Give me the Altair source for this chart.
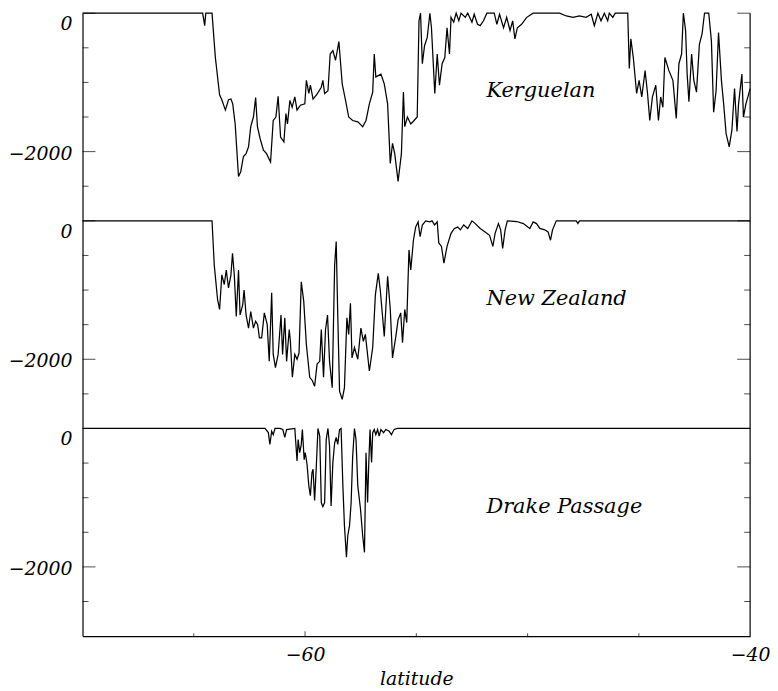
import altair as alt
import pandas as pd

# ---------------- data (latitude in degrees, depth in metres) ----------------
ker_lat = [-70, -64.60, -64.51, -64.46, -64.18, -64.03, -63.84, -63.74, -63.58, -63.44,
           -63.33, -63.25, -63.14, -62.99, -62.89, -62.77, -62.65, -62.54, -62.44, -62.32,
           -62.22, -62.14, -62.02, -61.87, -61.73, -61.55, -61.43, -61.31, -61.21, -61.10,
           -60.95, -60.86, -60.79, -60.68, -60.58, -60.46, -60.36, -60.21, -60.01, -59.94,
           -59.83, -59.76, -59.64, -59.46, -59.27, -59.20, -59.12, -58.97, -58.87, -58.75,
           -58.63, -58.48, -58.33, -58.18, -58.04, -57.86, -57.63, -57.41, -57.26, -57.11,
           -56.96, -56.89, -56.82, -56.59, -56.44, -56.29, -56.17, -56.07, -55.97, -55.82,
           -55.67, -55.58, -55.52, -55.40, -55.25, -55.10, -54.96, -54.88, -54.81, -54.73,
           -54.63, -54.51, -54.39, -54.32, -54.17, -54.06, -53.96, -53.84, -53.72, -53.62,
           -53.51, -53.44, -53.32, -53.21, -53.09, -52.99, -52.80, -52.69, -52.50, -52.40,
           -52.25, -52.13, -51.98, -51.83, -51.50, -51.38, -51.26, -51.08, -50.94, -50.79,
           -50.67, -50.57, -50.46, -50.27, -50.04, -49.75, -48.56, -48.26, -47.96, -47.67,
           -47.37, -47.14, -47.00, -46.84, -46.70, -46.55, -46.40, -46.33, -46.17, -46.06,
           -45.50, -45.43, -45.36, -45.25, -45.10, -44.99, -44.87, -44.72, -44.61, -44.51,
           -44.39, -44.24, -44.12, -44.02, -43.92, -43.83, -43.65, -43.47, -43.32, -43.20,
           -43.08, -43.00, -42.90, -42.83, -42.75, -42.63, -42.53, -42.41, -42.28, -42.16,
           -42.05, -41.86, -41.74, -41.64, -41.53, -41.42, -41.29, -41.19, -41.08, -40.94,
           -40.82, -40.70, -40.59, -40.52, -40.37, -40.30, -40.19, -40.10, -40.00]
ker_dep = [0, 0, -180, 0, 0, -640, -1180, -1250, -1400, -1250,
           -1240, -1310, -1600, -2360, -2290, -2070, -2030, -1930, -1640, -1500,
           -1220, -1640, -1810, -1980, -2030, -2150, -1550, -1500, -1200, -1790,
           -1860, -1450, -1600, -1260, -1360, -1210, -1400, -1330, -1310, -970,
           -1160, -1040, -1240, -1170, -1070, -970, -1160, -1120, -590, -540,
           -680, -410, -1020, -1260, -1500, -1550, -1570, -1640, -1550, -1310,
           -1140, -590, -920, -880, -1020, -1310, -2170, -1880, -2030, -2430,
           -2030, -1140, -1640, -1500, -1600, -1550, -1500, -110, 0, -730,
           -470, -350, 0, -210, -1160, -590, -1040, -730, -640, -210,
           -590, -60, -130, 0, -110, 0, -60, 0, -130, -15,
           -160, -180, -110, 0, 0, -160, -15, -210, -60, -250,
           -110, -370, -210, -160, -60, 0, 0, -40, -60, -40,
           -60, -15, -180, 0, -110, 0, -110, 0, -60, 0,
           0, -800, -370, -640, -1160, -970, -1210, -830, -1160, -1550,
           -1210, -1040, -1550, -1210, -1360, -640, -830, -970, -1520, -730,
           -590, 0, -250, -880, -1280, -590, -970, -1140, -450, -300,
           0, 0, -400, -1430, -1120, -280, -970, -1310, -1740, -1930,
           -1690, -1090, -1710, -1310, -880, -1500, -1310, -1210, -1090]

nz_lat = [-70, -64.18, -64.08, -63.93, -63.84, -63.74, -63.63, -63.54, -63.44, -63.33,
          -63.26, -63.18, -63.09, -62.99, -62.92, -62.80, -62.74, -62.65, -62.54, -62.44,
          -62.32, -62.22, -62.13, -62.05, -61.95, -61.83, -61.70, -61.61, -61.50, -61.43,
          -61.33, -61.21, -61.08, -61.01, -60.91, -60.83, -60.71, -60.66, -60.57, -60.46,
          -60.36, -60.27, -60.17, -60.06, -59.94, -59.79, -59.67, -59.57, -59.46, -59.34,
          -59.27, -59.17, -59.08, -58.99, -58.90, -58.78, -58.67, -58.60, -58.53, -58.45,
          -58.33, -58.23, -58.12, -58.04, -57.96, -57.89, -57.78, -57.63, -57.49, -57.38,
          -57.29, -57.11, -56.96, -56.84, -56.71, -56.62, -56.44, -56.29, -56.17, -56.07,
          -55.92, -55.82, -55.70, -55.62, -55.52, -55.43, -55.33, -55.25, -55.13, -55.03,
          -54.92, -54.83, -54.73, -54.58, -54.39, -54.29, -54.18, -54.06, -53.99, -53.87,
          -53.76, -53.62, -53.44, -53.29, -53.14, -53.02, -52.87, -52.69, -52.50, -52.35,
          -52.13, -51.91, -51.71, -51.56, -51.46, -51.31, -51.21, -51.12, -51.01, -50.91,
          -50.49, -50.19, -49.90, -49.75, -49.60, -49.45, -49.23, -49.08, -48.97, -48.88,
          -48.71, -47.81, -47.74, -47.67, -40.00]
nz_dep = [0, 0, -640, -1140, -1280, -780, -920, -710, -970, -780,
          -470, -780, -1380, -710, -1360, -1210, -1000, -1360, -1550, -1310,
          -1550, -1450, -1500, -1690, -1690, -1330, -1500, -2030, -1040, -1930,
          -2120, -1930, -1360, -1930, -1400, -2030, -1570, -1740, -2260, -1930,
          -2000, -1910, -880, -1160, -1790, -2260, -2310, -2390, -2070, -2030,
          -1570, -2260, -1570, -1360, -2030, -2410, -640, -300, -1360, -2460,
          -2580, -2410, -1400, -1640, -1190, -1980, -1830, -2000, -1550, -1740,
          -1640, -2170, -1830, -1070, -760, -1000, -1670, -800, -1280, -1980,
          -1670, -1430, -1330, -1760, -1280, -1470, -420, -710, -280, -90,
          -15, -230, -60, 0, -15, 0, -60, -15, -320, -370,
          -610, -370, -180, -110, -90, -130, -60, -110, 0, -40,
          -110, -160, -210, -370, -180, -40, -130, -400, -130, 0,
          -10, -40, -110, -15, -40, -110, -130, -160, -280, -130,
          0, 0, -40, 0, 0]

dp_lat = [-70, -61.80, -61.65, -61.58, -61.50, -61.43, -61.35, -61.13, -61.00, -60.91,
          -60.83, -60.46, -60.36, -60.31, -60.24, -60.17, -60.12, -60.04, -59.99, -59.91,
          -59.83, -59.76, -59.69, -59.64, -59.57, -59.50, -59.42, -59.34, -59.27, -59.20,
          -59.12, -59.05, -58.97, -58.90, -58.83, -58.75, -58.67, -58.60, -58.53, -58.45,
          -58.38, -58.30, -58.23, -58.14, -58.08, -58.00, -57.93, -57.86, -57.78, -57.71,
          -57.63, -57.51, -57.41, -57.33, -57.26, -57.19, -57.14, -57.08, -57.01, -56.96,
          -56.89, -56.82, -56.74, -56.67, -56.59, -56.47, -56.37, -56.22, -56.12, -56.00,
          -55.85, -40.00]
dp_dep = [0, 0, -60, -230, -40, -90, 0, 0, -15, -130,
          -15, 0, -470, -160, -350, -230, -15, -450, -350, -520,
          -830, -970, -640, -590, -1040, -590, 0, -110, -1070, -1130,
          -1070, -160, 0, -250, -1120, -490, -210, -130, -230, -15,
          0, -830, -1400, -1860, -1550, -1400, -1070, -400, 0, -160,
          -830, -1160, -1550, -1790, -350, -1070, -540, -15, -490, -60,
          -15, -90, -15, -110, -15, -60, -15, -40, -90, -15,
          0, 0]

panel_names = ["Kerguelan", "New Zealand", "Drake Passage"]
panel_span = 3000                      # each panel covers 0 .. -3000 m
name_lat = -51.85                       # where the panel names sit
name_depth = -1130

x_domain = [-70, -40]
y_domain = [-9000, 0]
x_labels = [-60, -40]
x_major = [-60]
x_minor = [-65, -55, -50, -45]
y_label_zero = [0, -3000, -6000]
y_label_deep = [-2000, -5000, -8000]
y_major = [0, -2000, -3000, -5000, -6000, -8000]
y_minor = [-500, -1000, -1500, -2500, -3500, -4000, -4500, -5500, -6500, -7000, -7500, -8500]

# ---------------- tables ----------------
rows = []
for i, (lats, deps) in enumerate([(ker_lat, ker_dep), (nz_lat, nz_dep), (dp_lat, dp_dep)]):
    for j, (a, d) in enumerate(zip(lats, deps)):
        rows.append({"panel": panel_names[i], "lat": a, "y": d - i * panel_span, "order": j})
line_df = pd.DataFrame(rows)

names_df = pd.DataFrame({"name": panel_names,
                         "lat": [name_lat] * 3,
                         "y": [name_depth - i * panel_span for i in range(3)]})
zero_df = pd.DataFrame({"y": y_label_zero, "t": ["0"] * 3})
deep_df = pd.DataFrame({"y": y_label_deep, "t": ["\u22122000"] * 3})
ymaj_df = pd.DataFrame({"y": y_major})
ymin_df = pd.DataFrame({"y": y_minor})
xmaj_df = pd.DataFrame({"lat": x_major})
xmin_df = pd.DataFrame({"lat": x_minor})
frame_df = pd.DataFrame({"lat": [x_domain[1]], "y": [y_domain[1]], "y2": [y_domain[0]]})

FONT = "DejaVu Serif"
xs = alt.Scale(domain=x_domain, nice=False, zero=False)
ys = alt.Scale(domain=y_domain, nice=False, zero=False)

ax_x = alt.Axis(values=x_labels, ticks=False, grid=False, domain=True,
                domainColor="black", domainWidth=1.2,
                labelFont=FONT, labelFontStyle="italic", labelFontSize=19,
                labelColor="black", labelPadding=10, labelFlush=False,
                title="latitude", titleFont=FONT, titleFontStyle="italic",
                titleFontWeight="normal", titleFontSize=19, titleColor="black",
                titlePadding=5)
ax_y = alt.Axis(labels=False, ticks=False, grid=False, domain=True,
                domainColor="black", domainWidth=1.2, title=None)


def X(field):
    return alt.X(field, type="quantitative", scale=xs, axis=ax_x, title="latitude")


def Y(field):
    return alt.Y(field, type="quantitative", scale=ys, axis=ax_y, title=None)


def XD(v):
    return alt.XDatum(v, type="quantitative", scale=xs, axis=ax_x, title="latitude")


def YD(v):
    return alt.YDatum(v, type="quantitative", scale=ys, axis=ax_y, title=None)


lines = alt.Chart(line_df).mark_line(color="black", strokeWidth=1.25).encode(
    x=X("lat"), y=Y("y"), detail="panel:N", order="order:Q")

right_frame = alt.Chart(frame_df).mark_rule(color="black", strokeWidth=1.2).encode(
    x=X("lat"), y=Y("y"), y2="y2:Q")

tick_l_maj = alt.Chart(ymaj_df).mark_tick(orient="horizontal", size=13, thickness=1,
                                          xOffset=6.5, color="black").encode(
    x=XD(x_domain[0]), y=Y("y"))
tick_l_min = alt.Chart(ymin_df).mark_tick(orient="horizontal", size=6, thickness=1,
                                          xOffset=3, color="black").encode(
    x=XD(x_domain[0]), y=Y("y"))
tick_r_maj = alt.Chart(ymaj_df).mark_tick(orient="horizontal", size=13, thickness=1,
                                          xOffset=-6.5, color="black").encode(
    x=XD(x_domain[1]), y=Y("y"))
tick_r_min = alt.Chart(ymin_df).mark_tick(orient="horizontal", size=6, thickness=1,
                                          xOffset=-3, color="black").encode(
    x=XD(x_domain[1]), y=Y("y"))
tick_b_maj = alt.Chart(xmaj_df).mark_tick(orient="vertical", size=5, thickness=1,
                                          yOffset=-2.5, color="black").encode(
    x=X("lat"), y=YD(y_domain[0]))
tick_b_min = alt.Chart(xmin_df).mark_tick(orient="vertical", size=3, thickness=1,
                                          yOffset=-1.5, color="black").encode(
    x=X("lat"), y=YD(y_domain[0]))

lab_zero = alt.Chart(zero_df).mark_text(align="right", baseline="middle", dx=-10, dy=11,
                                        font=FONT, fontStyle="italic", fontSize=19,
                                        color="black").encode(
    x=XD(x_domain[0]), y=Y("y"), text="t:N")
lab_deep = alt.Chart(deep_df).mark_text(align="right", baseline="middle", dx=-10, dy=2,
                                        font=FONT, fontStyle="italic", fontSize=19,
                                        color="black").encode(
    x=XD(x_domain[0]), y=Y("y"), text="t:N")

names = alt.Chart(names_df).mark_text(align="left", baseline="middle", font=FONT,
                                      fontStyle="italic", fontSize=21,
                                      color="black").encode(
    x=X("lat"), y=Y("y"), text="name:N")

chart = alt.layer(
    lines, right_frame, tick_l_maj, tick_l_min, tick_r_maj, tick_r_min,
    tick_b_maj, tick_b_min, lab_zero, lab_deep, names
).properties(
    width=672, height=627,
    padding={"left": 75, "top": 3, "right": 20, "bottom": 50},
    autosize=alt.AutoSizeParams(type="none"),
    background="white",
).configure_view(strokeWidth=0)

chart.save("out.html", embed_options={"renderer": "svg", "actions": False})
